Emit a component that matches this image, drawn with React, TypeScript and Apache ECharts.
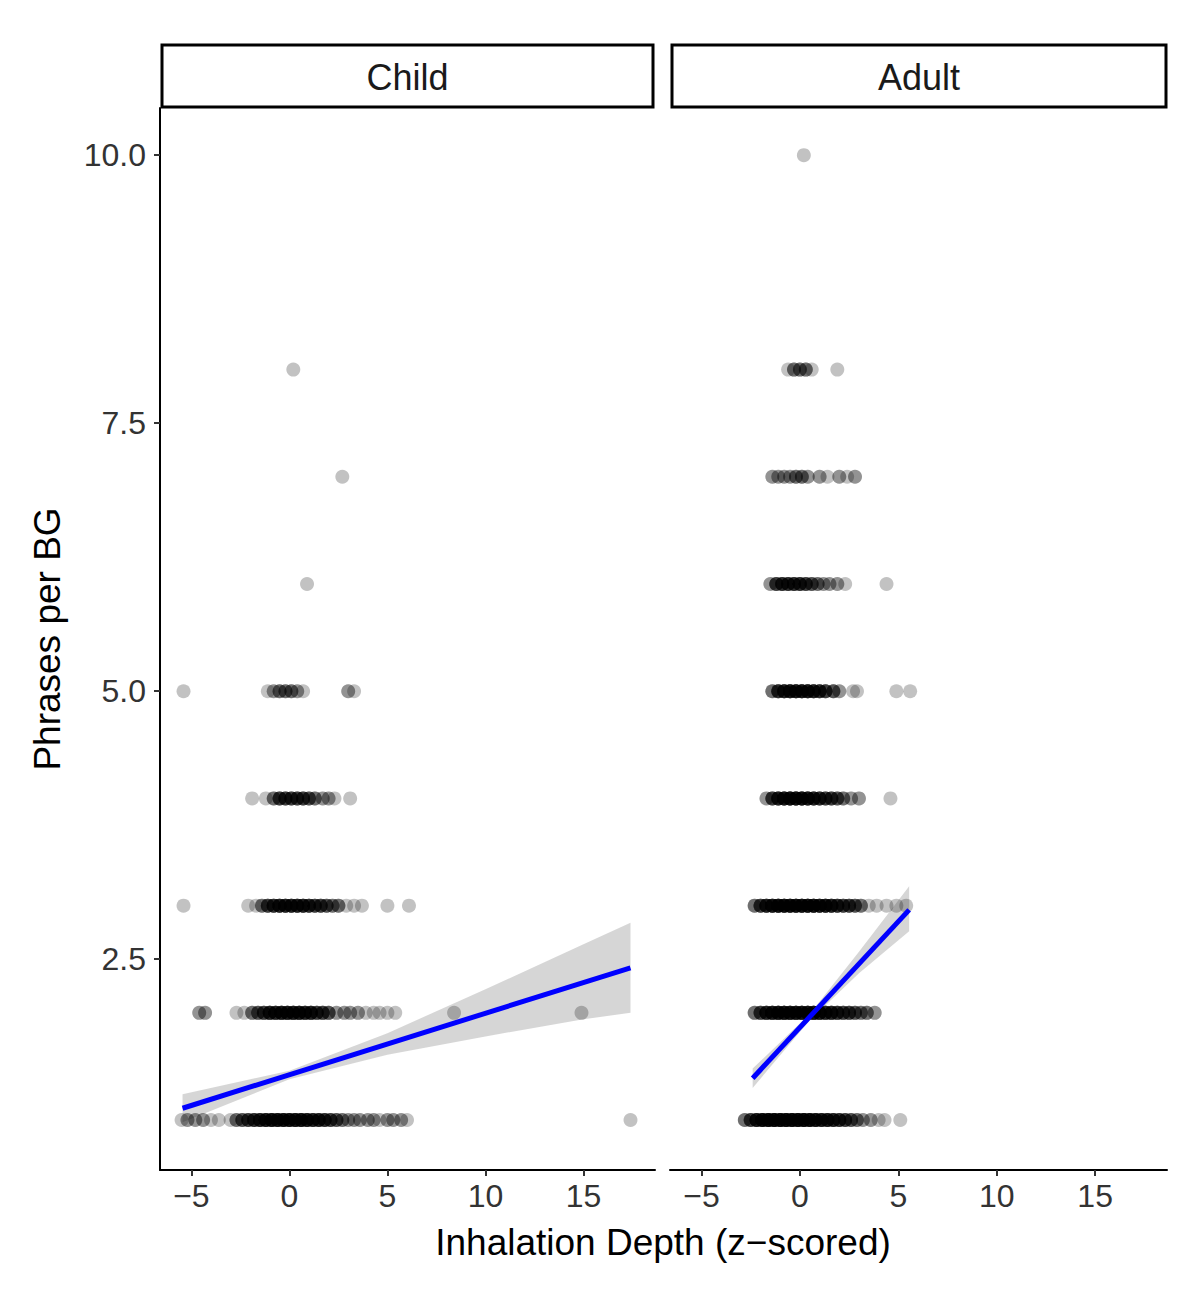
import React, { useRef, useEffect } from 'react';
import * as echarts from 'echarts';

const FONT = 'Liberation Sans, Arial, sans-serif';

const panels = ['Child', 'Adult'];
const yTicks = [2.5, 5, 7.5, 10];
const xTicks = [-5, 0, 5, 10, 15];

// [phrases per BG, inhalation depth, number of overlapping observations]
const childObs = [
  [8, 0.2, 1], [7, 2.7, 1], [6, 0.9, 1],
  [5, -5.4, 1], [5, -1.1, 1], [5, -0.8, 2], [5, -0.5, 3], [5, -0.2, 3], [5, 0.1, 3], [5, 0.4, 2], [5, 0.7, 1], [5, 3.0, 2], [5, 3.3, 1],
  [4, -1.9, 1], [4, -1.2, 1], [4, -0.8, 3], [4, -0.5, 5], [4, -0.2, 5], [4, 0.1, 5], [4, 0.4, 5], [4, 0.7, 5], [4, 1.0, 4], [4, 1.3, 3],
  [4, 1.7, 2], [4, 2.0, 2], [4, 2.3, 1], [4, 3.1, 1],
  [3, -5.4, 1], [3, -2.1, 1], [3, -1.7, 1], [3, -1.4, 3], [3, -1.1, 5], [3, -0.8, 6], [3, -0.5, 7], [3, -0.2, 7], [3, 0.1, 7], [3, 0.4, 7],
  [3, 0.7, 7], [3, 1.0, 6], [3, 1.3, 5], [3, 1.6, 5], [3, 1.9, 4], [3, 2.2, 3], [3, 2.5, 3], [3, 2.9, 1], [3, 3.3, 1], [3, 3.7, 1],
  [3, 5.0, 1], [3, 6.1, 1],
  [2, -4.6, 2], [2, -4.3, 2], [2, -2.7, 1], [2, -2.3, 1], [2, -1.9, 3], [2, -1.6, 4], [2, -1.3, 5], [2, -1.0, 7], [2, -0.7, 7], [2, -0.4, 8],
  [2, -0.1, 8], [2, 0.2, 8], [2, 0.5, 8], [2, 0.8, 7], [2, 1.1, 7], [2, 1.4, 5], [2, 1.7, 5], [2, 2.0, 4], [2, 2.4, 2], [2, 2.8, 2],
  [2, 3.1, 2], [2, 3.5, 2], [2, 3.9, 1], [2, 4.3, 1], [2, 4.6, 1], [2, 5.0, 1], [2, 5.4, 1], [2, 8.4, 1], [2, 14.9, 1],
  [1, -5.5, 1], [1, -5.2, 2], [1, -4.8, 2], [1, -4.4, 2], [1, -4.0, 1], [1, -3.6, 1], [1, -3.0, 1], [1, -2.7, 3], [1, -2.4, 4], [1, -2.1, 5],
  [1, -1.8, 6], [1, -1.5, 7], [1, -1.2, 8], [1, -0.9, 9], [1, -0.6, 9], [1, -0.3, 9], [1, 0, 9], [1, 0.3, 9], [1, 0.6, 9], [1, 0.9, 8],
  [1, 1.2, 7], [1, 1.5, 7], [1, 1.8, 6], [1, 2.1, 5], [1, 2.4, 4], [1, 2.7, 3], [1, 3.0, 2], [1, 3.3, 2], [1, 3.6, 2], [1, 4.0, 2],
  [1, 4.3, 2], [1, 4.6, 1], [1, 5.0, 2], [1, 5.3, 2], [1, 5.7, 2], [1, 6.0, 1], [1, 17.4, 1],
];

const adultObs = [
  [10, 0.2, 1],
  [8, -0.6, 1], [8, -0.3, 3], [8, 0, 3], [8, 0.3, 3], [8, 0.6, 1], [8, 1.9, 1],
  [7, -1.4, 2], [7, -1.1, 2], [7, -0.8, 2], [7, -0.5, 2], [7, -0.2, 3], [7, 0.1, 3], [7, 0.4, 2], [7, 1.0, 2], [7, 1.4, 1], [7, 2.0, 2],
  [7, 2.4, 1], [7, 2.8, 2],
  [6, -1.5, 2], [6, -1.2, 5], [6, -0.9, 6], [6, -0.6, 6], [6, -0.3, 6], [6, 0, 6], [6, 0.3, 5], [6, 0.6, 4], [6, 0.9, 3], [6, 1.2, 2],
  [6, 1.5, 2], [6, 1.9, 2], [6, 2.3, 1], [6, 4.4, 1],
  [5, -1.4, 3], [5, -1.1, 6], [5, -0.8, 7], [5, -0.5, 8], [5, -0.2, 8], [5, 0.1, 8], [5, 0.4, 8], [5, 0.7, 7], [5, 1.0, 6], [5, 1.3, 5],
  [5, 1.7, 4], [5, 2.0, 2], [5, 2.7, 1], [5, 2.9, 1], [5, 4.9, 1], [5, 5.6, 1],
  [4, -1.7, 2], [4, -1.4, 5], [4, -1.1, 7], [4, -0.8, 8], [4, -0.5, 9], [4, -0.2, 9], [4, 0.1, 9], [4, 0.4, 8], [4, 0.7, 7], [4, 1.0, 6],
  [4, 1.3, 5], [4, 1.6, 5], [4, 1.9, 4], [4, 2.2, 3], [4, 2.6, 2], [4, 3.0, 2], [4, 4.6, 1],
  [3, -2.3, 3], [3, -2.0, 5], [3, -1.7, 7], [3, -1.4, 8], [3, -1.1, 9], [3, -0.8, 9], [3, -0.5, 9], [3, -0.2, 9], [3, 0.1, 9], [3, 0.4, 9],
  [3, 0.7, 9], [3, 1.0, 8], [3, 1.3, 8], [3, 1.6, 7], [3, 1.9, 6], [3, 2.2, 5], [3, 2.5, 5], [3, 2.8, 4], [3, 3.1, 3], [3, 3.5, 1],
  [3, 3.9, 1], [3, 4.4, 1], [3, 4.9, 1], [3, 5.4, 1],
  [2, -2.3, 3], [2, -2.0, 5], [2, -1.7, 7], [2, -1.4, 8], [2, -1.1, 9], [2, -0.8, 9], [2, -0.5, 9], [2, -0.2, 9], [2, 0.1, 9], [2, 0.4, 9],
  [2, 0.7, 9], [2, 1.0, 8], [2, 1.3, 7], [2, 1.6, 7], [2, 1.9, 6], [2, 2.2, 5], [2, 2.5, 5], [2, 2.8, 4], [2, 3.1, 3], [2, 3.4, 3], [2, 3.8, 2],
  [1, -2.8, 3], [1, -2.5, 5], [1, -2.2, 8], [1, -1.9, 10], [1, -1.6, 11], [1, -1.3, 11], [1, -1.0, 11], [1, -0.7, 11], [1, -0.4, 11], [1, -0.1, 11],
  [1, 0.2, 11], [1, 0.5, 10], [1, 0.8, 9], [1, 1.1, 8], [1, 1.4, 8], [1, 1.7, 7], [1, 2.0, 6], [1, 2.3, 5], [1, 2.6, 4], [1, 2.9, 3],
  [1, 3.2, 2], [1, 3.6, 2], [1, 4.0, 1], [1, 4.3, 1], [1, 5.1, 1],
];

// linear fits (endpoints) and their confidence bands [x, lower, upper]
const childFit = [[-5.45, 1.11], [17.4, 2.42]];
const adultFit = [[-2.4, 1.39], [5.55, 2.96]];
const childBand = [
  [-5.45, 0.98, 1.24], [0, 1.38, 1.46], [5, 1.61, 1.81], [10, 1.78, 2.22], [15, 1.94, 2.64], [17.4, 2.0, 2.84],
];
const adultBand = [
  [-2.4, 1.3, 1.48], [0.5, 1.93, 1.99], [3, 2.37, 2.57], [5.55, 2.76, 3.18],
];

const obsList = [childObs, adultObs];
const fitList = [childFit, adultFit];
const bandList = [childBand, adultBand];

const expand = (obs) => {
  const pts = [];
  obs.forEach(([y, x, n]) => {
    for (let i = 0; i < n; i++) pts.push([x, y]);
  });
  return pts;
};

const fmtX = (v) => (v < 0 ? '\u2212' + Math.abs(v) : String(v));

const App = () => {
  const chartRef = useRef(null);

  useEffect(() => {
    document.body.style.margin = '0';
    const myChart = echarts.init(chartRef.current, null, { renderer: 'svg' });

    const grids = [
      { left: 160, top: 108, width: 495, height: 1062 },
      { left: 670, top: 108, width: 497, height: 1062 },
    ];

    const xAxes = panels.map((p, i) => ({
      type: 'value',
      gridIndex: i,
      min: -6.6,
      max: 18.65,
      splitLine: { show: false },
      axisLine: { onZero: false, lineStyle: { color: '#000', width: 2 } },
      axisTick: { customValues: xTicks, length: 6, lineStyle: { color: '#333', width: 2 } },
      axisLabel: { customValues: xTicks, formatter: fmtX, fontSize: 32, color: '#333', margin: 10, fontFamily: FONT },
    }));

    const yAxes = panels.map((p, i) => ({
      type: 'value',
      gridIndex: i,
      min: 0.534,
      max: 10.44,
      splitLine: { show: false },
      axisLine: { show: i === 0, onZero: false, lineStyle: { color: '#000', width: 2 } },
      axisTick: { show: i === 0, customValues: yTicks, length: 6, lineStyle: { color: '#333', width: 2 } },
      axisLabel: {
        show: i === 0,
        customValues: yTicks,
        formatter: (v) => v.toFixed(1),
        fontSize: 32,
        color: '#333',
        margin: 14,
        fontFamily: FONT,
      },
      name: i === 0 ? 'Phrases per BG' : '',
      nameLocation: 'middle',
      nameGap: 94,
      nameTextStyle: { fontSize: 37, color: '#000', fontFamily: FONT },
    }));

    const series = [];
    panels.forEach((p, i) => {
      series.push({
        type: 'scatter',
        xAxisIndex: i,
        yAxisIndex: i,
        data: expand(obsList[i]),
        symbolSize: 14,
        itemStyle: { color: 'rgba(0,0,0,0.3)' },
        silent: true,
      });
    });
    panels.forEach((p, i) => {
      const band = bandList[i];
      series.push({
        type: 'custom',
        xAxisIndex: i,
        yAxisIndex: i,
        data: [band[0]],
        silent: true,
        renderItem: (params, api) => {
          const top = band.map((d) => api.coord([d[0], d[2]]));
          const bottom = band.slice().reverse().map((d) => api.coord([d[0], d[1]]));
          return {
            type: 'polygon',
            shape: { points: top.concat(bottom) },
            style: { fill: 'rgba(153,153,153,0.4)' },
          };
        },
      });
      series.push({
        type: 'line',
        xAxisIndex: i,
        yAxisIndex: i,
        data: fitList[i],
        symbol: 'none',
        lineStyle: { color: '#0000ff', width: 5 },
        silent: true,
      });
    });

    const strips = [
      { x: 162, w: 491 },
      { x: 672, w: 494 },
    ];
    const graphic = [];
    panels.forEach((p, i) => {
      graphic.push({
        type: 'rect',
        shape: { x: strips[i].x, y: 45, width: strips[i].w, height: 62 },
        style: { fill: '#fff', stroke: '#000', lineWidth: 3 },
      });
      graphic.push({
        type: 'text',
        x: strips[i].x + strips[i].w / 2,
        y: 77,
        style: { text: p, fontSize: 36, fill: '#1a1a1a', align: 'center', verticalAlign: 'middle', fontFamily: FONT },
      });
    });
    graphic.push({
      type: 'text',
      x: 663,
      y: 1242,
      style: {
        text: 'Inhalation Depth (z\u2212scored)',
        fontSize: 37,
        fill: '#000',
        align: 'center',
        verticalAlign: 'middle',
        fontFamily: FONT,
      },
    });

    const option = {
      animation: false,
      backgroundColor: '#fff',
      grid: grids.map((g) => ({ ...g, containLabel: false, outerBoundsMode: 'none' })),
      xAxis: xAxes,
      yAxis: yAxes,
      series,
      graphic,
    };

    myChart.setOption(option);

    return () => {
      myChart.dispose();
    };
  }, []);

  return <div ref={chartRef} style={{ width: '1200px', height: '1296px' }} />;
};

export default App;
